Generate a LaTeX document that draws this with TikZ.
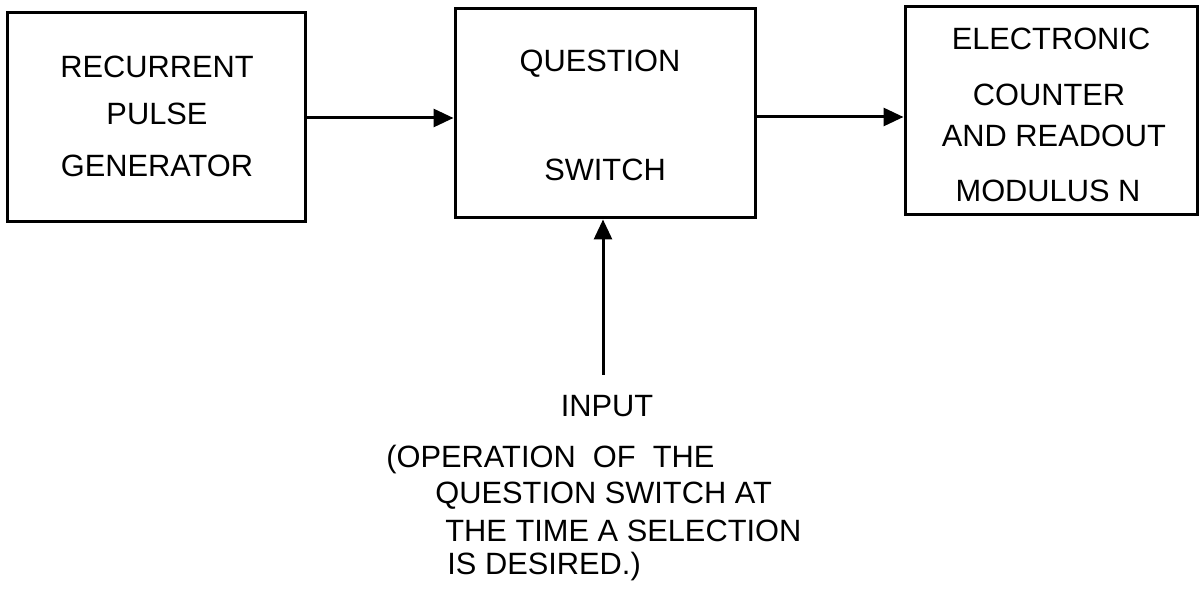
\documentclass[tikz,border=0pt]{standalone}
\usepackage{fontspec}
\setmainfont{Liberation Sans}
\usetikzlibrary{arrows.meta}
\begin{document}
\begin{tikzpicture}[x=0.5pt,y=-0.5pt,
  blk/.style={draw,line width=1.5pt,minimum width=#1,inner sep=0pt},
  lbl/.style={font=\fontsize{15.4}{18}\selectfont,inner sep=0pt},
  arr/.style={line width=1.5pt,-{Triangle[length=10pt,width=9pt]}}]
\useasboundingbox (0,0) rectangle (1200,592);
\node[blk=149pt,minimum height=104.5pt] (b1) at (156,117.5) {};
\node[blk=150pt,minimum height=104.5pt] (b2) at (605,113.5) {};
\node[blk=146pt,minimum height=104pt] (b3) at (1051,111) {};
\node[lbl] (t1) at (157,67) {RECURRENT};
\node[lbl] (t2) at (157,114) {PULSE};
\node[lbl] (t3) at (157,166) {GENERATOR};
\node[lbl] (t4) at (600,64) {QUESTION};
\node[lbl] (t5) at (605,170) {SWITCH};
\node[lbl] (t6) at (1051,39) {ELECTRONIC};
\node[lbl] (t7) at (1049,95) {COUNTER};
\node[lbl] (t8) at (1054,136) {AND READOUT};
\node[lbl] (t9) at (1048,191) {MODULUS N};
\node[lbl] (i0) at (607,406) {INPUT};
\node[lbl,anchor=west] (i1) at (386,460) {(OPERATION\ \ OF\ \ THE};
\node[lbl,anchor=west] (i2) at (435,496) {QUESTION SWITCH AT};
\node[lbl,anchor=west] (i3) at (445,531) {THE TIME A SELECTION};
\node[lbl,anchor=west] (i4) at (447,567) {IS DESIRED.)};
\coordinate (a1) at (305,118);
\coordinate (a2) at (755,117);
\coordinate (a3) at (603,375);
\draw[arr] (a1) -- (a1 -| b2.west);
\draw[arr] (a2) -- (a2 -| b3.west);
\draw[arr] (a3) -- (a3 |- b2.south);
\end{tikzpicture}
\end{document}
